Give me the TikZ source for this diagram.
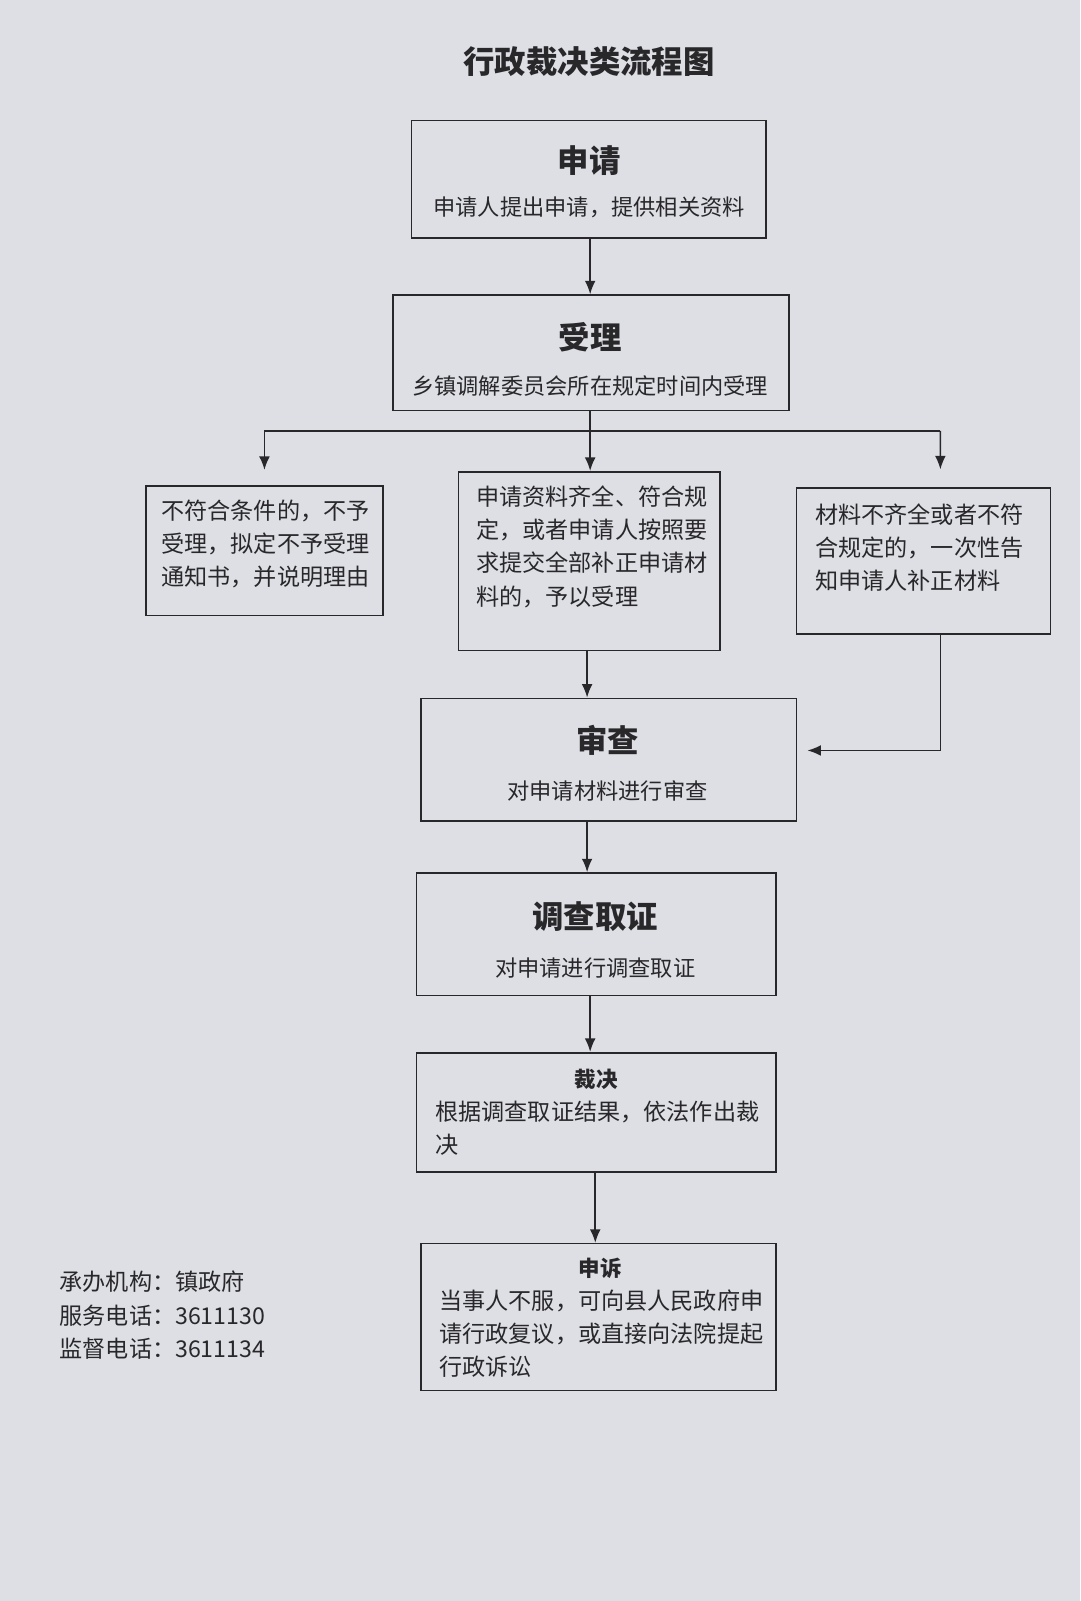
\documentclass[tikz,border=0pt]{standalone}
\usepackage{fontspec}
\setmainfont{Noto Sans CJK SC}
\usetikzlibrary{arrows.meta}

\definecolor{paper}{RGB}{222,223,229}
\definecolor{ink}{RGB}{40,40,42}

\tikzset{
  box/.style={draw=ink, line width=0.9pt, inner sep=0pt},
  ttl/.style={font=\fontsize{17.5}{20}\selectfont\bfseries, text=ink},
  small ttl/.style={font=\fontsize{12}{14}\selectfont\bfseries, text=ink},
  sub/.style={font=\fontsize{12.4}{15}\selectfont, text=ink},
  para/.style={font=\fontsize{12.9}{18.5}\selectfont, text=ink, align=left, inner sep=0pt},
  arr/.style={draw=ink, line width=0.9pt, -{Latex[length=7.5pt,width=6pt]}},
  line/.style={draw=ink, line width=0.9pt}
}

\begin{document}
\begin{tikzpicture}[x=0.02cm, y=-0.02cm]
  % Paper
  \fill[paper] (0,0) rectangle (1058,1568);
  \useasboundingbox (0,0) rectangle (1058,1568);

  % Heading
  \node[ttl] (heading) at (577,60) {行政裁决类流程图};

  % Boxes
  \node[box, minimum width=6.94cm, minimum height=2.3cm] (shenqing) at (576.5,175.5) {};
  \node[box, minimum width=7.76cm, minimum height=2.26cm] (shouli) at (579,345.5) {};
  \node[box, minimum width=4.64cm, minimum height=2.54cm] (buyu) at (259,539.5) {};
  \node[box, minimum width=5.12cm, minimum height=3.5cm] (qiquan) at (577,549.5) {};
  \node[box, minimum width=4.98cm, minimum height=2.86cm] (buqi) at (904.5,549.5) {};
  \node[box, minimum width=7.36cm, minimum height=2.4cm] (shencha) at (596,744) {};
  \node[box, minimum width=7.04cm, minimum height=2.4cm] (diaocha) at (584,915) {};
  \node[box, minimum width=7.04cm, minimum height=2.34cm] (caijue) at (584,1089.5) {};
  \node[box, minimum width=6.96cm, minimum height=2.88cm] (shensu) at (586,1290) {};

  % Texts in boxes
  \node[ttl] (shenqingT) at (577,157) {申请};
  \node[sub] (shenqingS) at (577,203) {申请人提出申请，提供相关资料};
  \node[ttl] (shouliT) at (578,330) {受理};
  \node[sub] (shouliS) at (578,378) {乡镇调解委员会所在规定时间内受理};
  \node[para] (buyuT) at (260,533) {不符合条件的，不予\\受理，拟定不予受理\\通知书，并说明理由};
  \node[para, anchor=west] (qiquanT) at (466,535.5) {申请资料齐全、符合规\\定，或者申请人按照要\\求提交全部补正申请材\\料的，予以受理};
  \node[para, anchor=west] (buqiT) at (798,536) {材料不齐全或者不符\\合规定的，一次性告\\知申请人补正材料};
  \node[ttl] (shenchaT) at (595,725) {审查};
  \node[sub] (shenchaS) at (595,775) {对申请材料进行审查};
  \node[ttl] (diaochaT) at (583,898) {调查取证};
  \node[sub] (diaochaS) at (583,948) {对申请进行调查取证};
  \node[small ttl] (caijueT) at (584,1057) {裁决};
  \node[para, anchor=west] (caijueP) at (426,1105) {根据调查取证结果，依法作出裁\\决};
  \node[small ttl] (shensuT) at (588,1242) {申诉};
  \node[para, anchor=west] (shensuP) at (430,1306) {当事人不服，可向县人民政府申\\请行政复议，或直接向法院提起\\行政诉讼};

  % Contact
  \node[para, anchor=west] (contact) at (58,1288) {承办机构：镇政府\\服务电话：3611130\\监督电话：3611134};

  % Arrows
  \coordinate (fork) at (578,422);
  \draw[arr] (shenqing.south -| 578,0) -- (shouli.north -| 578,0);
  \draw[arr] (shouli.south -| 578,0) -- (qiquan.north -| 578,0);
  \draw[line] (fork) -- (fork -| 921,0);
  \draw[arr] (fork) -| ([yshift=0.3cm]buyu.north);
  \draw[arr] (fork -| 921,0) -- ([xshift=0.33cm,yshift=0.35cm]buqi.north);
  \draw[arr] (qiquan.south -| 575,0) -- (shencha.north -| 575,0);
  \draw[arr] ([xshift=0.33cm]buqi.south) |- ([xshift=0.2cm,yshift=0.18cm]shencha.east);
  \draw[arr] (shencha.south -| 575,0) -- (diaocha.north -| 575,0);
  \draw[arr] (diaocha.south -| 578,0) -- (caijue.north -| 578,0);
  \draw[arr] (caijue.south -| 583,0) -- (shensu.north -| 583,0);
\end{tikzpicture}
\end{document}
